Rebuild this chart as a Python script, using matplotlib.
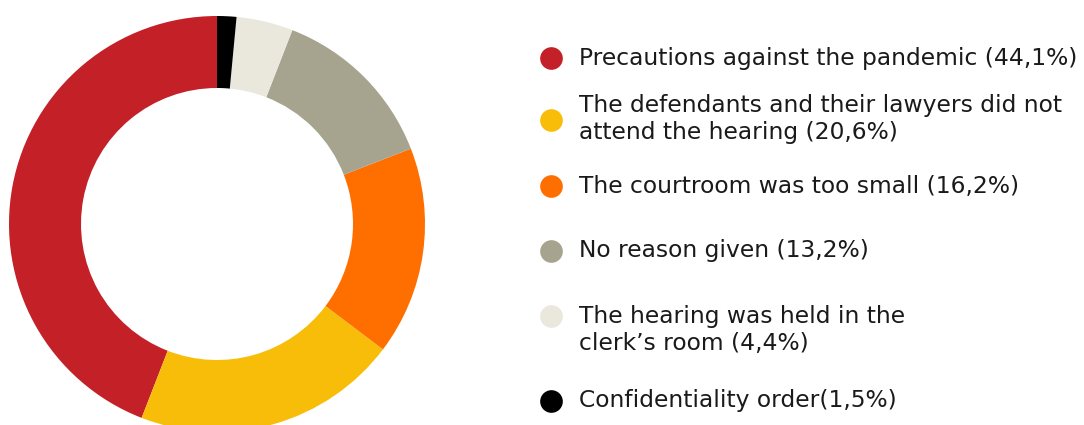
import matplotlib
matplotlib.use("Agg")
import matplotlib.pyplot as plt

labels = [
    "Precautions against the pandemic (44,1%)",
    "The defendants and their lawyers did not\nattend the hearing (20,6%)",
    "The courtroom was too small (16,2%)",
    "No reason given (13,2%)",
    "The hearing was held in the\nclerk\u2019s room (4,4%)",
    "Confidentiality order(1,5%)",
]
values = [44.1, 20.6, 16.2, 13.2, 4.4, 1.5]
colors = ["#C32028", "#F8BD08", "#FF6F00", "#A6A48E", "#EAE7DC", "#000000"]

W, H = 1084, 425
fig = plt.figure(figsize=(W / 100, H / 100), dpi=100)

cx, cy, R, r = 217, 224, 208, 136
ax = fig.add_axes([(cx - R) / W, (H - cy - R) / H, 2 * R / W, 2 * R / H])
ax.pie(values, colors=colors, startangle=90, counterclock=True, radius=1,
       wedgeprops=dict(width=(R - r) / R, linewidth=0))
ax.set_xlim(-1, 1)
ax.set_ylim(-1, 1)
ax.set_aspect("equal")
ax.axis("off")

lax = fig.add_axes([0, 0, 1, 1])
lax.set_xlim(0, W)
lax.set_ylim(H, 0)
lax.axis("off")

marker_y = [58, 120, 186, 251, 316, 401]
text_y = [58, 119, 186, 251, 330, 401]
for c, lab, my, ty in zip(colors, labels, marker_y, text_y):
    lax.scatter([551], [my], s=22 ** 2 * 0.55, color=c, marker="o", linewidths=0)
    lax.text(579, ty, lab, va="center", ha="left", fontsize=16.8, color="#1a1a1a",
             family="DejaVu Sans", linespacing=1.22)

fig.savefig("out.png", dpi=100)
